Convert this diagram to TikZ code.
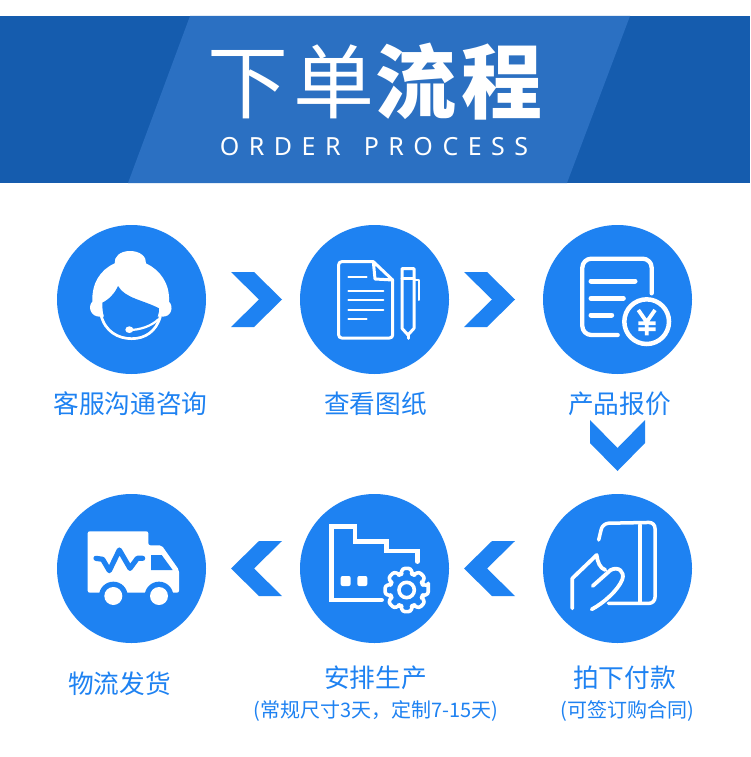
\documentclass[tikz,border=0pt]{standalone}
\usepackage{fontspec}
\setmainfont{Noto Sans CJK SC}
\newfontfamily\titlefont[LetterSpace=6.5]{Noto Sans CJK SC}
\newfontfamily\subfont[LetterSpace=38,WordSpace=1.45]{Noto Sans}
\definecolor{bandark}{HTML}{155CAE}
\definecolor{banlight}{HTML}{2B70C2}
\definecolor{mainblue}{HTML}{1E82F2}
\tikzset{
  x=1pt,y=-1pt,
  stepcircle/.style={circle,fill=mainblue,draw=none,inner sep=0pt,minimum size=149pt},
  chevron/.style={fill=mainblue,draw=none},
  label/.style={text=mainblue,font=\fontsize{25.7}{30}\selectfont,inner sep=0pt,anchor=center},
  sublabel/.style={text=mainblue,font=\fontsize{20}{24}\selectfont,inner sep=0pt,anchor=center},
  icon/.style={draw=white,line cap=round,line join=round,line width=3pt},
  thinicon/.style={draw=white,line cap=round,line join=round,line width=2pt},
  zoomed/.style={x=0.33333pt,y=-0.33333pt},
}
\begin{document}
\begin{tikzpicture}
\useasboundingbox (0,0) rectangle (750,757);
\fill[white] (0,0) rectangle (750,757);
% banner
\fill[bandark] (0,16) rectangle (750,183);
\fill[banlight] (190,16) -- (630,16) -- (567,183) -- (128,183) -- cycle;
\node[text=white,inner sep=0pt,font=\fontsize{81}{90}\selectfont] (title) at (375,82)
  {{\titlefont 下单}{\titlefont\bfseries 流程}};
\node[text=white,inner sep=0pt,font=\fontsize{25}{30}\selectfont] (subtitle) at (374,147)
  {\subfont ORDER PROCESS};
% circles
\node[stepcircle] (c1) at (131.5,299.5) {};
\node[stepcircle] (c2) at (374.5,299.5) {};
\node[stepcircle] (c3) at (617.5,299.5) {};
\node[stepcircle] (c4) at (131.5,568.5) {};
\node[stepcircle] (c5) at (374.5,568.5) {};
\node[stepcircle] (c6) at (617.5,568.5) {};
% chevrons
\fill[chevron] (231,272) -- (254,272) -- (282,299.5) -- (254,327) -- (231,327) -- (259,299.5) -- cycle;
\fill[chevron] (464,272) -- (487,272) -- (515,299.5) -- (487,327) -- (464,327) -- (492,299.5) -- cycle;
\fill[chevron] (282,541) -- (259,541) -- (231,568.5) -- (259,596) -- (282,596) -- (254,568.5) -- cycle;
\fill[chevron] (515,541) -- (492,541) -- (464,568.5) -- (492,596) -- (515,596) -- (487,568.5) -- cycle;
\fill[chevron] (590,420) -- (590,443) -- (617.5,471) -- (645,443) -- (645,420) -- (617.5,448) -- cycle;
% icon 1: agent
\begin{scope}[shift={(50,220)},zoomed]
  \fill[white] (240,93) .. controls (210,93) and (192,110) .. (194,130)
     .. controls (150,150) and (125,190) .. (127,245)
     .. controls (112,260) and (122,292) .. (152,290)
     -- (335,290)
     .. controls (365,292) and (372,260) .. (357,245)
     .. controls (360,190) and (330,150) .. (288,130)
     .. controls (290,110) and (270,93) .. (240,93) -- cycle;
  \fill[mainblue] (157,248) .. controls (175,240) and (195,220) .. (204,198)
     .. controls (225,235) and (280,240) .. (327,265)
     .. controls (330,300) and (290,350) .. (240,350)
     .. controls (190,350) and (155,310) .. (157,248) -- cycle;
  \draw[draw=white,line cap=round,line width=2.7pt] (153,285) .. controls (165,335) and (205,356) .. (245,356)
     .. controls (285,356) and (318,335) .. (331,290);
  \draw[draw=white,line cap=round,line width=2.2pt] (238,330) .. controls (270,330) and (305,318) .. (325,298);
  \fill[white] (238,329) ellipse (12 and 10);
\end{scope}
% icon 2: document and pen
\begin{scope}[shift={(295,220)},zoomed]
  \draw[icon,rounded corners=3pt] (235,125) -- (131,125) -- (131,354) -- (293,354) -- (293,180);
  \draw[icon] (235,125) -- (293,180) -- (240,177) -- cycle;
  \draw[thinicon] (160,170) -- (215,170) (160,213) -- (265,213) (160,241) -- (265,241) (160,269) -- (265,269) (160,297) -- (215,297);
  \draw[icon] (321,146) -- (357,146) -- (357,325) -- (339,345) -- (321,325) -- cycle;
  \draw[icon] (339,345) -- (339,355);
  \draw[icon] (321,174) -- (357,174);
  \draw[thinicon] (358,180) -- (372,180) -- (372,240);
\end{scope}
% icon 3: quote
\begin{scope}[shift={(540,220)},zoomed]
  \draw[draw=white,line cap=round,line join=round,line width=4.3pt,rounded corners=9pt]
     (233,345) -- (127,345) -- (127,116) -- (335,116) -- (335,220);
  \draw[draw=white,line cap=round,line width=5pt] (153,183) -- (285,183) (153,235) -- (250,235) (153,285) -- (215,285);
  \draw[draw=white,fill=mainblue,line width=4.5pt] (320,305) circle (67);
  \draw[draw=white,line width=3.8pt,line join=miter] (295,270) -- (320,306) -- (345,270) (295,310) -- (347,310) (295,328) -- (347,328) (320,306) -- (320,346);
\end{scope}
% icon 4: truck
\begin{scope}[shift={(50,490)},zoomed]
  \fill[white,rounded corners=2pt] (113,124) -- (295,124) -- (295,166) -- (335,166) -- (387,240) -- (387,308) -- (113,308) -- cycle;
  \fill[mainblue] (190,318) circle (43) (327,318) circle (43);
  \fill[white] (190,318) circle (27) (327,318) circle (27);
  \fill[mainblue] (303,195) -- (335,195) -- (368,240) -- (303,240) -- cycle;
  \draw[draw=mainblue,line cap=round,line join=round,line width=5.2pt] (138,205) -- (158,208) -- (178,242) -- (208,180) -- (240,235) -- (262,205) -- (278,205);
\end{scope}
% icon 5: factory and gear
\begin{scope}[shift={(295,490)},zoomed]
  \draw[draw=white,line cap=round,line join=miter,line width=4.5pt] (260,330) -- (110,330) -- (110,110) -- (180,110) -- (180,155) -- (275,155) -- (275,183) -- (367,183) -- (367,215);
  \fill[white,rounded corners=2pt] (137,258) rectangle (167,288) (187,258) rectangle (217,288);
  \begin{scope}[shift={(335,300)},x=0.33333pt,y=-0.33333pt]
    \draw[draw=white,line join=round,line width=3.6pt,rounded corners=2.5pt] (-11:66)
      \foreach \a in {0,45,...,315}{
        -- (\a-11:66) -- (\a+11:66) -- (\a+20:50) -- (\a+25:50)
      } -- cycle;
    \draw[draw=white,line width=3.6pt] (0,0) circle (23);
  \end{scope}
\end{scope}
% icon 6: hand and card
\begin{scope}[shift={(540,490)},zoomed]
  \draw[draw=white,line cap=round,line join=round,line width=3.5pt,rounded corners=6pt] (176,150) -- (188,100) -- (345,97) -- (345,340) -- (205,340);
  \draw[draw=white,line cap=round,line width=3.5pt] (300,105) -- (300,335);
  \draw[draw=white,line cap=round,line join=round,line width=3.8pt] (97,355) -- (97,265) -- (170,195)
     .. controls (172,215) and (180,235) .. (196,240);
  \draw[draw=white,line cap=round,line join=round,line width=3.8pt] (158,288) -- (212,240)
     .. controls (235,228) and (255,245) .. (247,268)
     .. controls (235,300) and (190,340) .. (155,358);
\end{scope}
% labels
\node[label] (l1) at (130.5,404) {客服沟通咨询};
\node[label] (l2) at (375.5,404) {查看图纸};
\node[label] (l3) at (619.5,404) {产品报价};
\node[label] (l4) at (119.5,684) {物流发货};
\node[label] (l5) at (375.5,678) {安排生产};
\node[label] (l6) at (624.5,678) {拍下付款};
\node[sublabel] (s5) at (376,711) {(常规尺寸3天，定制7-15天)};
\node[sublabel] (s6) at (627,711) {(可签订购合同)};
\end{tikzpicture}
\end{document}
